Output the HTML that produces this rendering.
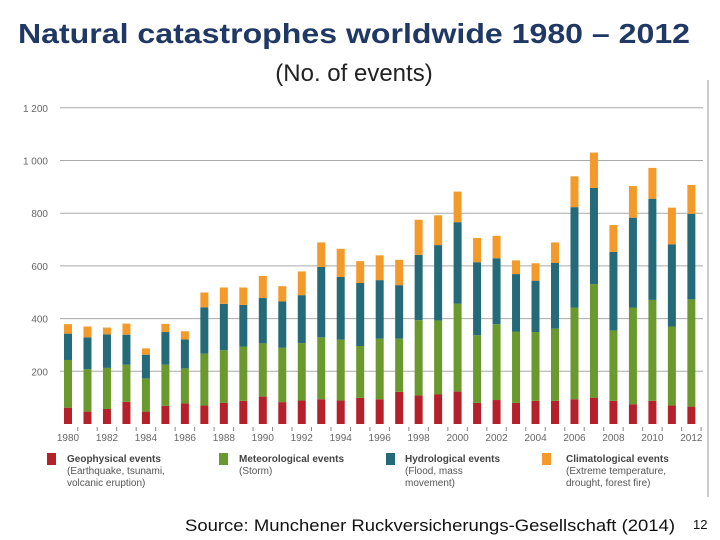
<!DOCTYPE html>
<html><head><meta charset="utf-8"><style>
html,body{margin:0;padding:0;background:#fff;}
svg{display:block;font-family:"Liberation Sans",sans-serif;}
</style></head><body>
<svg id="chart" width="720" height="540" viewBox="0 0 720 540">
<text x="354" y="43" text-anchor="middle" font-size="28" font-weight="bold" fill="#1f3864" textLength="672" lengthAdjust="spacingAndGlyphs">Natural catastrophes worldwide 1980 – 2012</text>
<text x="354" y="81" text-anchor="middle" font-size="24" fill="#222">(No. of events)</text>
<line x1="708" y1="80" x2="708" y2="497" stroke="#bbb" stroke-width="1.5"/>
<g id="grid"></g><g id="bars"></g><g id="xaxis"></g>
<g font-size="10" fill="#555">
 <g>
  <rect x="47" y="453" width="9" height="12" fill="#b5212a"/>
  <text x="67" y="462" font-weight="bold" fill="#444">Geophysical events</text>
  <text x="67" y="474">(Earthquake, tsunami,</text>
  <text x="67" y="486">volcanic eruption)</text>
 </g>
 <g>
  <rect x="219" y="453" width="9" height="12" fill="#6a9a2e"/>
  <text x="239" y="462" font-weight="bold" fill="#444">Meteorological events</text>
  <text x="239" y="474">(Storm)</text>
 </g>
 <g>
  <rect x="386" y="453" width="9" height="12" fill="#246a78"/>
  <text x="405" y="462" font-weight="bold" fill="#444">Hydrological events</text>
  <text x="405" y="474">(Flood, mass</text>
  <text x="405" y="486">movement)</text>
 </g>
 <g>
  <rect x="542" y="453" width="9" height="12" fill="#f39a2b"/>
  <text x="566" y="462" font-weight="bold" fill="#444">Climatological events</text>
  <text x="566" y="474">(Extreme temperature,</text>
  <text x="566" y="486">drought, forest fire)</text>
 </g>
</g>
<text x="185" y="531" font-size="17" fill="#111" textLength="490" lengthAdjust="spacingAndGlyphs">Source: Munchener Ruckversicherungs-Gesellschaft (2014)</text>
<text x="693" y="529" font-size="13" fill="#111">12</text>
</svg>
<script>
const years = [];
for (let y = 1980; y <= 2012; y++) years.push(y);
const geophysical = [62,47,57,84,47,69,78,70,80,88,104,83,89,94,89,99,94,122,108,112,123,80,91,80,88,88,94,100,88,75,88,70,66];
const meteorological = [181,161,156,141,126,156,133,197,200,206,202,207,218,235,231,197,230,202,286,281,334,257,288,271,261,274,348,431,267,367,383,300,407];
const hydrological = [100,121,127,114,90,124,110,176,176,158,172,175,182,267,238,239,222,203,248,286,309,277,250,218,195,249,381,365,298,341,384,312,325];
const climatological = [36,41,26,42,24,31,31,56,62,66,84,58,90,93,107,83,94,96,133,113,116,92,85,52,66,78,117,134,102,120,117,139,109];
const yTicks = [200,400,600,800,1000,1200];
const yTickLabels = ["200","400","600","800","1 000","1 200"];

const NS = "http://www.w3.org/2000/svg";
const y0 = 424, pxPerUnit = 0.2635;
const xFirst = 68, step = 19.48, barW = 8;
function yScale(v){ return y0 - v * pxPerUnit; }
function xScale(i){ return xFirst + i * step; }
function mk(tag, attrs, parent){ const e = document.createElementNS(NS, tag); for (const k in attrs) e.setAttribute(k, attrs[k]); parent.appendChild(e); return e; }

const grid = document.getElementById('grid');
yTicks.forEach((t, i) => {
  const l = mk('line', {x1:60, x2:703, y1:yScale(t), y2:yScale(t), stroke:'#aaa', 'stroke-width':1}, grid);
  
  
  const tx = mk('text', {x:48, y:yScale(t)+4, 'text-anchor':'end', 'font-size':10, fill:'#666'}, grid);
  tx.textContent = yTickLabels[i];
  
  
});

const series = [[geophysical,'#b5212a','geophysical'],[meteorological,'#6a9a2e','meteorological'],[hydrological,'#246a78','hydrological'],[climatological,'#f39a2b','climatological']];
const bars = document.getElementById('bars');
years.forEach((yr, i) => {
  let acc = 0;
  series.forEach(([vals, col, nm]) => {
    const v = vals[i];
    const r = mk('rect', {x:xScale(i)-barW/2, y:yScale(acc+v), width:barW, height:v*pxPerUnit, fill:col}, bars);
    
    
    acc += v;
  });
});

const xa = document.getElementById('xaxis');
years.forEach((yr, i) => {
  const tk = mk('line', {x1:xScale(i)+step/2, x2:xScale(i)+step/2, y1:427, y2:431, stroke:'#888'}, xa);
  
  
  if (i % 2 === 0) {
    const t = mk('text', {x:xScale(i), y:441, 'text-anchor':'middle', 'font-size':10, fill:'#666'}, xa);
    t.textContent = yr;
    
    
  }
});
</script>
</body></html>
